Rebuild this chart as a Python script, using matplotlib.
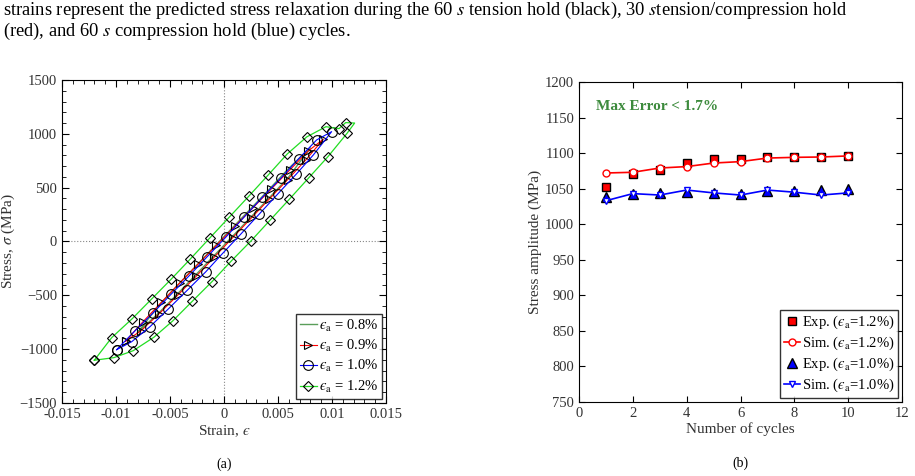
import matplotlib
matplotlib.use("Agg")
import matplotlib.pyplot as plt
from matplotlib.ticker import MultipleLocator

plt.rcParams['font.family'] = ['Liberation Serif', 'DejaVu Serif']
plt.rcParams['mathtext.fontset'] = 'stix'

# ---------------- (a) hysteresis loops ----------------
# 0.8 % loop (line only)
strain_08 = [-0.008, -0.006, -0.004, -0.002, 0.0, 0.002, 0.004, 0.006, 0.008,
             0.006, 0.004, 0.002, 0.0, -0.002, -0.004, -0.006, -0.008]
stress_08 = [-845, -660, -455, -245, -35, 175, 385, 600, 870,
             680, 465, 255, 45, -165, -375, -590, -845]

# 0.9 % loop
strain_09 = [-0.0091, -0.0077, -0.006, -0.0043, -0.0026, -0.0009, 0.0008, 0.0025, 0.0042, 0.0059, 0.0076, 0.0092,
             0.0078, 0.0061, 0.0044, 0.0027, 0.001, -0.0007, -0.0024, -0.0041, -0.0058, -0.0075, -0.0091]
stress_09 = [-925, -830, -670, -500, -325, -145, 35, 215, 395, 575, 760, 950,
             840, 665, 490, 315, 140, -35, -210, -385, -565, -745, -925]

# 1.0 % loop
strain_10 = [-0.00994, -0.00855, -0.00685, -0.00516, -0.0034, -0.0017, -0.00012, 0.00157, 0.00327, 0.00497,
             0.00667, 0.00827, 0.00997, 0.00858, 0.00692, 0.00525, 0.00355, 0.00185, 0.00016, -0.00155,
             -0.00324, -0.0049, -0.00654, -0.00824, -0.00994]
stress_10 = [-1005, -931, -791, -627, -453, -283, -110, 70, 255, 440,
             623, 803, 1020, 943, 769, 586, 410, 225, 39, -141,
             -320, -490, -661, -829, -1005]

# 1.2 % loop
strain_12 = [-0.01201, -0.0102, -0.0084, -0.0065, -0.00475, -0.00293, -0.00111, 0.00065, 0.00247, 0.00426,
             0.00605, 0.00784, 0.00963, 0.0114, 0.0121, 0.01127, 0.01065, 0.00944, 0.00766, 0.00586,
             0.0041, 0.00232, 0.0005, -0.00132, -0.00312, -0.0049, -0.0067, -0.0085, -0.0104, -0.01201]
stress_12 = [-1103, -1079, -1014, -890, -738, -555, -373, -184, 2, 197,
             392, 590, 788, 1005, 1100, 1104, 1048, 1066, 971, 813,
             618, 423, 227, 32, -163, -351, -534, -717, -893, -1103]
marks_12 = [i for i in range(len(strain_12)) if i != 14]

# ---------------- (b) stress amplitude ----------------
cycles = [1, 2, 3, 4, 5, 6, 7, 8, 9, 10]
exp_12 = [1053, 1071, 1076, 1086, 1091, 1091, 1094, 1094, 1094, 1096]
sim_12 = [1072, 1073, 1079, 1081, 1086, 1088, 1093, 1094, 1094.5, 1096]
exp_10 = [1038, 1042, 1044, 1045, 1044, 1043, 1047, 1046, 1048, 1050]
sim_10 = [1033, 1043, 1041, 1048, 1044, 1041, 1048, 1045, 1041, 1044]

caption = ["strains represent the predicted stress relaxation during the 60 $s$ tension hold (black), 30 $s$tension/compression hold",
           "(red), and 60 $s$ compression hold (blue) cycles."]

tick_col = '#333333'
eps_sym = chr(0x3f5)
eps = '$' + eps_sym + r'_{\mathrm{a}}$'

fig = plt.figure(figsize=(9.15, 4.76), dpi=100)
fig.text(0.003, 0.979, caption[0], fontsize=13.3, va='center', ha='left')
fig.text(0.003, 0.934, caption[1], fontsize=13.3, va='center', ha='left')

# ---- left
ax1 = fig.add_axes([0.0678, 0.1534, 0.354, 0.6786])
ax1.axhline(0, color='#888888', ls=':', lw=0.8, zorder=1)
ax1.axvline(0, color='#888888', ls=':', lw=0.8, zorder=1)
ax1.plot(strain_08, stress_08, color='#5a9e5a', lw=1.0, label=eps + ' = 0.8%')
ax1.plot(strain_09, stress_09, color='red', lw=0.8, marker='>', ms=6, mfc='none', mec='black', mew=0.8,
         label=eps + ' = 0.9%')
ax1.plot(strain_10, stress_10, color='blue', lw=0.8, marker='o', ms=7, mfc='none', mec='black', mew=0.8,
         label=eps + ' = 1.0%')
ax1.plot(strain_12, stress_12, color='#22dd22', lw=0.9, marker='D', ms=5.5, mfc='none', mec='black', mew=0.8,
         markevery=marks_12, label=eps + ' = 1.2%')
ax1.set_xlim(-0.015, 0.015)
ax1.set_ylim(-1500, 1500)
ax1.set_xticks([-0.015, -0.01, -0.005, 0, 0.005, 0.01, 0.015])
ax1.set_xticklabels(['-0.015', '-0.01', '-0.005', '0', '0.005', '0.01', '0.015'])
ax1.set_yticks([-1500, -1000, -500, 0, 500, 1000, 1500])
ax1.xaxis.set_minor_locator(MultipleLocator(0.001))
ax1.yaxis.set_minor_locator(MultipleLocator(100))
ax1.tick_params(which='both', direction='in', top=True, right=True, labelsize=10.5, labelcolor=tick_col)
ax1.tick_params(which='major', length=5)
ax1.tick_params(which='minor', length=3)
ax1.set_xlabel('Strain, $' + eps_sym + '$', fontsize=11, color=tick_col, labelpad=2)
ax1.set_ylabel(r'Stress, $\sigma$ (MPa)', fontsize=11, color=tick_col, labelpad=2)
ax1.legend(loc='lower right', fontsize=10.5, frameon=True, fancybox=False, edgecolor='black',
           handlelength=1.2, handletextpad=0.1, borderpad=0.25, labelspacing=0.3, borderaxespad=0.3)
ax1.text(0.5, -0.17, '(a)', transform=ax1.transAxes, ha='center', va='top', fontsize=10)

# ---- right
ax2 = fig.add_axes([0.6328, 0.1555, 0.353, 0.6723])
ax2.plot(cycles, exp_12, ls='none', marker='s', ms=6, mfc='red', mec='black', mew=1.0,
         label='Exp. (' + eps + '=1.2%)')
ax2.plot(cycles, sim_12, color='red', lw=1.2, marker='o', ms=5, mfc='white', mec='red', mew=1.0,
         label='Sim. (' + eps + '=1.2%)')
ax2.plot(cycles, exp_10, ls='none', marker='^', ms=7, mfc='blue', mec='black', mew=1.0,
         label='Exp. (' + eps + '=1.0%)')
ax2.plot(cycles, sim_10, color='blue', lw=1.2, marker='v', ms=5, mfc='white', mec='blue', mew=1.0,
         label='Sim. (' + eps + '=1.0%)')
ax2.set_xlim(0, 12)
ax2.set_ylim(750, 1200)
ax2.set_xticks([0, 2, 4, 6, 8, 10, 12])
ax2.set_yticks(range(750, 1201, 50))
ax2.tick_params(direction='in', top=True, right=True, length=4, labelsize=10.5, labelcolor=tick_col)
ax2.set_xlabel('Number of cycles', fontsize=11, color=tick_col, labelpad=2)
ax2.set_ylabel('Stress amplitude (MPa)', fontsize=11, color=tick_col, labelpad=2)
ax2.text(0.63, 1165, 'Max Error < 1.7%', color='#3d8b3d', fontweight='bold', fontsize=11, va='center')
ax2.legend(loc='lower right', fontsize=10.5, frameon=True, fancybox=False, edgecolor='black',
           handlelength=1.1, handletextpad=0.1, borderpad=0.25, labelspacing=0.25, borderaxespad=0.3)
ax2.text(0.5, -0.17, '(b)', transform=ax2.transAxes, ha='center', va='top', fontsize=10)

fig.savefig('out.png', dpi=100)
